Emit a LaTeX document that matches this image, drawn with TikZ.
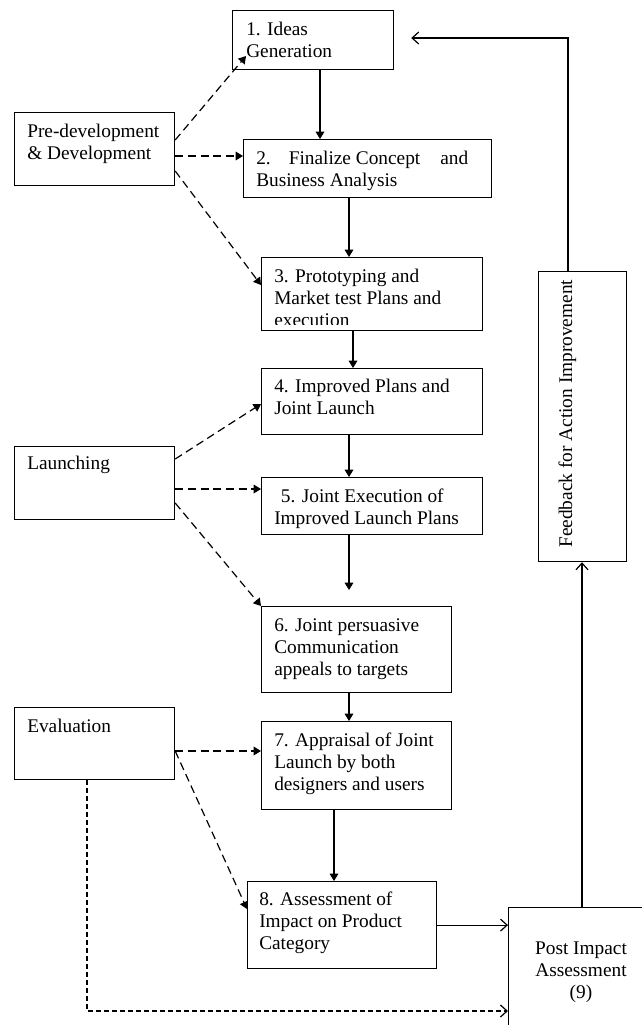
\documentclass[tikz,border=0pt]{standalone}
\usepackage{fontspec}
\setmainfont{Liberation Serif}
\usetikzlibrary{arrows.meta,calc}
\begin{document}
\begin{tikzpicture}[x=0.75pt,y=-0.75pt,
  box/.style={draw, line width=0.9pt, inner sep=0pt, anchor=north west},
  sz/.style 2 args={minimum width=#1*0.75pt, minimum height=#2*0.75pt},
  txt/.style={inner sep=0pt, anchor=base west, align=left, font=\fontsize{14.5pt}{16.5pt}\selectfont},
  flow/.style={line width=0.9pt, -{Triangle[length=5.5pt,width=6.5pt]}},
  open/.style={line width=0.9pt, -{Straight Barb[length=5pt,width=9pt]}},
  dashline/.style={line width=0.9pt, dash pattern=on 6pt off 3.5pt, -{Triangle[length=5.5pt,width=6.5pt]}},
  dotline/.style={line width=0.9pt, dash pattern=on 3.5pt off 2.5pt, -{Straight Barb[length=5pt,width=9pt]}}
]
\clip (0,0) rectangle (642,1025);
\fill[white] (0,0) rectangle (642,1025);

% boxes
\node[box, sz={160}{73}] (pre) at (14,112) {};
\node[box, sz={161}{59}] (b1) at (232,10) {};
\node[box, sz={248}{58}] (b2) at (243,139) {};
\node[box, sz={221}{73}] (b3) at (261,257) {};
\node[box, sz={88}{290}] (fbk) at (538,271) {};
\node[box, sz={221}{66}] (b4) at (261,368) {};
\node[box, sz={160}{73}] (launch) at (14,446) {};
\node[box, sz={221}{57}] (b5) at (261,477) {};
\node[box, sz={190}{86}] (b6) at (261,606) {};
\node[box, sz={160}{72}] (eval) at (14,707) {};
\node[box, sz={190}{88}] (b7) at (261,721) {};
\node[box, sz={189}{87}] (b8) at (247,881) {};
\node[box, sz={146}{130}] (post) at (508,907) {};

% texts (anchored at the baseline of their last line)
\node[txt] (tpre) at ($(pre.north west)+(13,47)$) {Pre-development\\\& Development};
\node[txt] (t1) at ($(b1.north west)+(14,47)$) {1. Ideas\\Generation};
\node[txt] (t2) at ($(b2.north west)+(13,47)$) {2.\hspace{13.5pt}Finalize Concept\hspace{15pt}and\\Business Analysis};
\begin{scope}
  \clip ($(b3.north west)+(1,1)$) rectangle ($(b3.south east)+(-1,-7)$);
  \node[txt] (t3) at ($(b3.north west)+(13,69)$) {3. Prototyping and\\Market test Plans and\\execution};
\end{scope}
\node[txt] (t4) at ($(b4.north west)+(13,46)$) {4. Improved Plans and\\Joint Launch};
\node[txt] (tlaunch) at ($(launch.north west)+(13,23)$) {Launching};
\node[txt] (t5) at ($(b5.north west)+(13,47)$) {\hspace*{5pt}5. Joint Execution of\\Improved Launch Plans};
\node[txt] (t6) at ($(b6.north west)+(13,69)$) {6. Joint persuasive\\Communication\\appeals to targets};
\node[txt] (teval) at ($(eval.north west)+(13,25)$) {Evaluation};
\node[txt] (t7) at ($(b7.north west)+(13,69)$) {7. Appraisal of Joint\\Launch by both\\designers and users};
\node[txt] (t8) at ($(b8.north west)+(12,68)$) {8. Assessment of\\Impact on Product\\Category};
\node[txt, align=center, anchor=base] (tpost) at ($(post.north west)+(73,91)$) {Post Impact\\Assessment\\(9)};
\node[txt, rotate=90] (tfbk) at ($(fbk.north west)+(34,277)$) {Feedback for Action Improvement};

% main flow
\draw[flow] ($(b1.south west)+(88,0)$) -- ($(b2.north west)+(77,0)$);
\draw[flow] ($(b2.south west)+(106,0)$) -- ($(b3.north west)+(88,0)$);
\draw[flow] ($(b3.south west)+(92,0)$) -- ($(b4.north west)+(92,0)$);
\draw[flow] ($(b4.south west)+(88,0)$) -- ($(b5.north west)+(88,0)$);
\draw[flow, shorten >=12pt] ($(b5.south west)+(88,0)$) -- ($(b6.north west)+(88,0)$);
\draw[flow] ($(b6.south west)+(88,0)$) -- ($(b7.north west)+(88,0)$);
\draw[flow] ($(b7.south west)+(73,0)$) -- ($(b8.north west)+(87,0)$);

% feedback loop
\draw[open] (b8.east) -- (b8.east -| post.west);
\draw[open] ($(post.north west)+(74,0)$) -- ($(fbk.south west)+(44,0)$);
\draw[open] ($(fbk.north west)+(30,0)$) |- ($(b1.north east)+(17,28)$);

% phase connectors
\draw[dashline] ($(pre.north east)+(0,28)$) -- ($(b1.north west)+(14,46)$);
\draw[dashline] ($(pre.north east)+(0,44)$) -- ($(b2.north west)+(0,17)$);
\draw[dashline] ($(pre.north east)+(0,59)$) -- ($(b3.north west)+(0,28)$);
\draw[dashline] ($(launch.north east)+(0,13)$) -- ($(b4.north west)+(0,36)$);
\draw[dashline] ($(launch.north east)+(0,43)$) -- ($(b5.north west)+(0,12)$);
\draw[dashline] ($(launch.north east)+(0,57)$) -- (b6.north west);
\draw[dashline] ($(eval.north east)+(0,44)$) -- ($(b7.north west)+(0,30)$);
\draw[dashline] ($(eval.north east)+(0,44)$) -- ($(b8.north west)+(0,28)$);
\draw[dotline] ($(eval.south west)+(73,0)$) |- ($(post.north west)+(0,104)$);
\end{tikzpicture}
\end{document}
